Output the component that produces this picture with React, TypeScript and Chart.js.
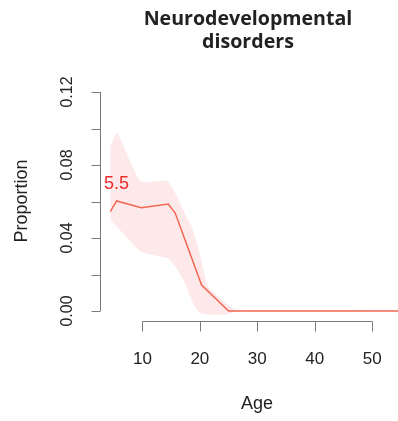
import React, { useEffect, useRef } from "react";
import { Chart, registerables } from "chart.js";

Chart.register(...registerables);

const TITLE_LINES = ["Neurodevelopmental", "disorders"];
const X_LABEL = "Age";
const Y_LABEL = "Proportion";
const PEAK_LABEL = "5.5";
const PEAK_AGE = 5.5;
const PEAK_LABEL_Y = 0.0695;

const X_TICKS = [10, 20, 30, 40, 50];
const Y_TICKS = [0, 0.02, 0.04, 0.06, 0.08, 0.1, 0.12];
const Y_TICK_LABELS = ["0.00", "", "0.04", "", "0.08", "", "0.12"];

const lineAges = [4.4, 5.5, 9.8, 14.5, 15.7, 20.3, 25.0, 54.5];
const lineValues = [0.0544, 0.0603, 0.0566, 0.0586, 0.0537, 0.0142, 0.0, 0.0];

const bandAges = [4.4, 5.6, 9.7, 14.4, 15.8, 17.4, 18.8, 20.0, 21.4, 23.0, 24.4, 26.7, 54.5];
const bandUpper = [0.09, 0.0977, 0.0709, 0.0712, 0.064, 0.0535, 0.0444, 0.031, 0.0133, 0.0086, 0.0044, 0.0, 0.0];
const bandLower = [0.05, 0.046, 0.0325, 0.0289, 0.024, 0.0152, 0.0044, -0.001, -0.002, -0.002, -0.002, 0.0, 0.0];

const LINE_COLOR = "#f2664f";
const BAND_COLOR = "rgba(240, 110, 110, 0.15)";
const AXIS_COLOR = "#7a7a7a";
const TEXT_COLOR = "#222222";

const axesPlugin = {
  id: "rAxes",
  afterDraw(chart: any) {
    const ctx = chart.ctx as CanvasRenderingContext2D;
    const xs = chart.scales.x;
    const ys = chart.scales.y;
    ctx.save();
    ctx.strokeStyle = AXIS_COLOR;
    ctx.lineWidth = 1;

    // Y axis
    const yAxisX = 100.5;
    ctx.beginPath();
    ctx.moveTo(yAxisX, ys.getPixelForValue(Y_TICKS[0]));
    ctx.lineTo(yAxisX, ys.getPixelForValue(Y_TICKS[Y_TICKS.length - 1]));
    Y_TICKS.forEach((v) => {
      const py = Math.round(ys.getPixelForValue(v)) + 0.5;
      ctx.moveTo(yAxisX, py);
      ctx.lineTo(yAxisX - 9, py);
    });
    ctx.stroke();

    ctx.fillStyle = TEXT_COLOR;
    ctx.font = "16px 'Liberation Sans', Arial, sans-serif";
    ctx.textAlign = "center";
    ctx.textBaseline = "middle";
    Y_TICKS.forEach((v, i) => {
      const lab = Y_TICK_LABELS[i];
      if (!lab) return;
      const py = ys.getPixelForValue(v);
      ctx.save();
      ctx.translate(68, py);
      ctx.rotate(-Math.PI / 2);
      ctx.fillText(lab, 0, 0);
      ctx.restore();
    });

    // X axis
    const xAxisY = 321.5;
    ctx.beginPath();
    ctx.moveTo(xs.getPixelForValue(X_TICKS[0]), xAxisY);
    ctx.lineTo(xs.getPixelForValue(X_TICKS[X_TICKS.length - 1]), xAxisY);
    X_TICKS.forEach((v) => {
      const px = Math.round(xs.getPixelForValue(v)) + 0.5;
      ctx.moveTo(px, xAxisY);
      ctx.lineTo(px, xAxisY + 10);
    });
    ctx.stroke();

    ctx.font = "17px 'Liberation Sans', Arial, sans-serif";
    X_TICKS.forEach((v) => {
      ctx.fillText(String(v), xs.getPixelForValue(v), 359);
    });

    // Axis titles
    ctx.font = "18px 'Liberation Sans', Arial, sans-serif";
    ctx.textBaseline = "alphabetic";
    ctx.fillText(X_LABEL, 257, 409);
    ctx.save();
    ctx.translate(27, 201);
    ctx.rotate(-Math.PI / 2);
    ctx.fillText(Y_LABEL, 0, 0);
    ctx.restore();

    // Title
    ctx.font = "bold 19.6px 'Open Sans', sans-serif";
    ctx.fillText(TITLE_LINES[0], 248, 25);
    ctx.fillText(TITLE_LINES[1], 248, 48);

    // Peak label
    ctx.fillStyle = "#ee2b2b";
    ctx.font = "18px 'Liberation Sans', Arial, sans-serif";
    ctx.textBaseline = "middle";
    ctx.fillText(PEAK_LABEL, xs.getPixelForValue(PEAK_AGE), ys.getPixelForValue(PEAK_LABEL_Y));
    ctx.restore();
  },
};

export default function App() {
  const ref = useRef<HTMLCanvasElement | null>(null);
  useEffect(() => {
    if (!ref.current) return;
    const chart = new Chart(ref.current, {
      type: "line",
      data: {
        datasets: [
          {
            label: "upper",
            data: bandAges.map((a, i) => ({ x: a, y: bandUpper[i] })),
            borderWidth: 0,
            borderColor: "rgba(0,0,0,0)",
            backgroundColor: BAND_COLOR,
            pointRadius: 0,
            fill: "+1",
            tension: 0.15,
          },
          {
            label: "lower",
            data: bandAges.map((a, i) => ({ x: a, y: bandLower[i] })),
            borderWidth: 0,
            borderColor: "rgba(0,0,0,0)",
            backgroundColor: BAND_COLOR,
            pointRadius: 0,
            fill: false,
            tension: 0.15,
          },
          {
            label: "proportion",
            data: lineAges.map((a, i) => ({ x: a, y: lineValues[i] })),
            borderWidth: 1.5,
            borderColor: LINE_COLOR,
            pointRadius: 0,
            fill: false,
            tension: 0,
          },
        ],
      },
      options: {
        animation: false,
        responsive: false,
        events: [],
        layout: { padding: { left: 96.5, right: 0, top: 82.9, bottom: 102.7 } },
        plugins: { legend: { display: false }, tooltip: { enabled: false }, title: { display: false } },
        scales: {
          x: { type: "linear", min: 2, max: 54.5, display: false },
          y: { type: "linear", min: -0.004, max: 0.125, display: false },
        },
      },
      plugins: [axesPlugin],
    });
    return () => chart.destroy();
  }, []);
  return (
    <div style={{ position: "fixed", left: 0, top: 0, width: 398, height: 421, background: "#fff" }}>
      <canvas ref={ref} width={398} height={421} style={{ display: "block" }} />
    </div>
  );
}
